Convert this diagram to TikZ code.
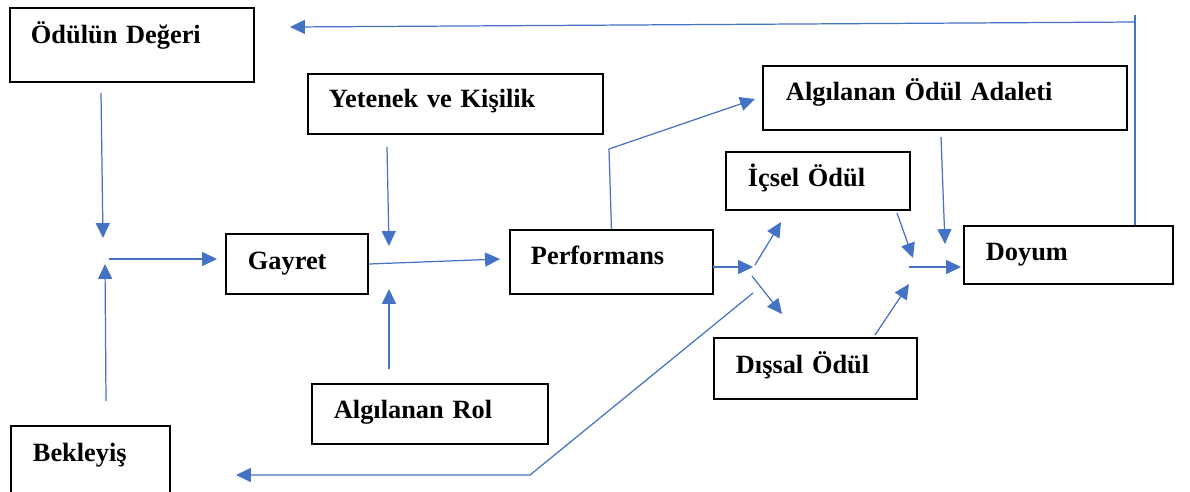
\documentclass[tikz,border=0pt]{standalone}
\usepackage{fontspec}
\setmainfont{Liberation Serif}
\usepackage{xcolor}
\usetikzlibrary{arrows.meta}
\usetikzlibrary{positioning}

\definecolor{linkblue}{HTML}{4472C4}

\begin{document}
\begin{tikzpicture}[x=0.02cm,y=-0.02cm]
    \tikzstyle{wbox}=[draw=black,line width=1.1pt,anchor=north west,inner ysep=0pt,align=left,font=\fontsize{15}{18}\selectfont\bfseries]
    \tikzstyle{link}=[draw=linkblue,line width=0.7pt]
    \tikzstyle{arrow}=[link,-{Triangle[length=8.5pt,width=8pt]}]

    \useasboundingbox (0,0) rectangle (1190,491);

    % boxes
    \node[wbox,inner xsep=11.95pt,text width=114.9pt,text height=20.5pt,text depth=21.6pt] (deger) at (9,7) {Ödülün Değeri};
    \node[wbox,inner xsep=11.95pt,text width=144pt,text height=19.35pt,text depth=14.8pt] (yetenek) at (307,73) {Yetenek ve Kişilik};
    \node[wbox,inner xsep=13.1pt,text width=180.9pt,text height=19.9pt,text depth=16.5pt] (adalet) at (762,65) {Algılanan Ödül Adaleti};
    \node[wbox,inner xsep=12.5pt,text width=79.7pt,text height=19.9pt,text depth=13.1pt] (icsel) at (725,151) {İçsel Ödül};
    \node[wbox,inner xsep=12.5pt,text width=55.8pt,text height=20.5pt,text depth=13.7pt] (gayret) at (225,233) {Gayret};
    \node[wbox,inner xsep=11.95pt,text width=91.6pt,text height=19.9pt,text depth=16.5pt] (perf) at (509,229) {Performans};
    \node[wbox,inner xsep=12.5pt,text width=93.9pt,text height=19.9pt,text depth=13.1pt] (doyum) at (963,225) {Doyum};
    \node[wbox,inner xsep=12.5pt,text width=90.5pt,text height=20.5pt,text depth=14.2pt] (dissal) at (713,337) {Dışsal Ödül};
    \node[wbox,inner xsep=12.5pt,text width=109.2pt,text height=19.9pt,text depth=14.2pt] (rol) at (311,383) {Algılanan Rol};
    \node[wbox,inner xsep=12.5pt,text width=65.4pt,text height=20.5pt,text depth=22.2pt] (bekle) at (10,425) {Bekleyiş};

    % free ends of the links
    \coordinate (fbtop) at (1135,15);
    \coordinate (fbturn) at (1135,22);
    \coordinate (fbend) at (290,27);
    \coordinate (degerout) at (101,93);
    \coordinate (jtop) at (103,238);
    \coordinate (bekleout) at (106,401);
    \coordinate (jbot) at (105,264);
    \coordinate (jright) at (109,259);
    \coordinate (gayretin) at (217,259);
    \coordinate (yetout) at (387,147);
    \coordinate (yetend) at (389,246);
    \coordinate (rolout) at (389,369);
    \coordinate (rolend) at (389,289);
    \coordinate (perfin) at (500,259);
    \coordinate (perfturn) at (609,149);
    \coordinate (adaletin) at (755,99);
    \coordinate (perfout) at (713,267);
    \coordinate (split) at (753,267);
    \coordinate (splitup) at (755,265);
    \coordinate (icselin) at (781,222);
    \coordinate (splitdown) at (752,276);
    \coordinate (dissalin) at (782,314);
    \coordinate (backstart) at (753,293);
    \coordinate (backturn) at (530,475);
    \coordinate (backend) at (236,475);
    \coordinate (icselout) at (897,213);
    \coordinate (icselend) at (913,258);
    \coordinate (adaletout) at (941,137);
    \coordinate (adaletend) at (945,244);
    \coordinate (merge) at (909,267);
    \coordinate (doyumin) at (961,267);
    \coordinate (dissalout) at (875,335);
    \coordinate (dissalend) at (909,284);

    % links
    \draw[link] (fbtop |- doyum.north) -- (fbtop);
    \draw[arrow] (fbturn) -- (fbend);
    \draw[arrow] (degerout) -- (jtop);
    \draw[arrow] (bekleout) -- (jbot);
    \draw[arrow] (jright) -- (gayretin);
    \draw[arrow] (yetout) -- (yetend);
    \draw[arrow] (rolout) -- (rolend);
    \draw[arrow] (gayret.east) -- (perfin);
    \draw[arrow] (perf.north) -- (perfturn) -- (adaletin);
    \draw[arrow] (perfout) -- (split);
    \draw[arrow] (splitup) -- (icselin);
    \draw[arrow] (splitdown) -- (dissalin);
    \draw[arrow] (backstart) -- (backturn) -- (backend);
    \draw[arrow] (icselout) -- (icselend);
    \draw[arrow] (adaletout) -- (adaletend);
    \draw[arrow] (merge) -- (doyumin);
    \draw[arrow] (dissalout) -- (dissalend);

\end{tikzpicture}
\end{document}
